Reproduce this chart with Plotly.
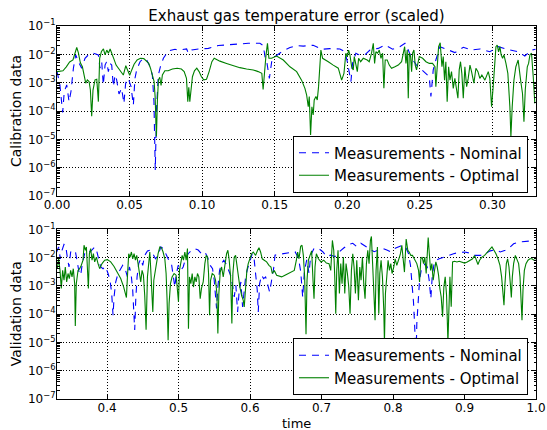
import plotly.graph_objects as go

# ---------------- data (time, log10 of scaled error) ----------------
cal_nominal_t = [0.0, 0.002, 0.0039, 0.005, 0.0067, 0.0083, 0.0096, 0.0113, 0.0129, 0.0147,
                 0.017, 0.0193, 0.0216, 0.025, 0.0285, 0.0296, 0.0308, 0.0319, 0.0331, 0.0342,
                 0.0354, 0.0365, 0.0377, 0.0388, 0.04, 0.0411, 0.0427, 0.0445, 0.0461, 0.0473,
                 0.0491, 0.051, 0.0526, 0.0537, 0.0549, 0.0572, 0.0595, 0.0618, 0.0641, 0.0657,
                 0.0668, 0.0677, 0.0686, 0.0698, 0.0712, 0.0733, 0.0767, 0.0813, 0.0836, 0.0893,
                 0.0905, 0.0928, 0.0974, 0.1043, 0.1111, 0.1215, 0.1318, 0.1398, 0.1421, 0.1433,
                 0.1447, 0.1463, 0.1479, 0.1502, 0.1548, 0.1605, 0.1651, 0.1697, 0.1765, 0.1823,
                 0.188, 0.1949, 0.1984, 0.2, 0.2013, 0.2025, 0.2036, 0.2059, 0.2082, 0.2121,
                 0.2156, 0.2213, 0.2259, 0.2312, 0.2362, 0.2397, 0.242, 0.2443, 0.2477, 0.2512,
                 0.2546, 0.2565, 0.2576, 0.2592, 0.261, 0.2638, 0.2684, 0.2741, 0.2799, 0.2856,
                 0.2914, 0.2982, 0.304, 0.3097, 0.3178, 0.3223, 0.3269, 0.3297]
cal_nominal_exp = [-2.6, -3.08, -4.05, -3.32, -3.08, -3.67, -3.32, -2.49, -2.02, -2.26,
                   -2.49, -2.14, -2.02, -1.96, -2.02, -2.49, -2.26, -3.08, -2.38, -2.26,
                   -2.61, -2.32, -2.38, -3.14, -2.73, -2.9, -3.4, -3.2, -3.73, -3.02,
                   -2.85, -3.14, -3.79, -2.85, -2.55, -2.26, -2.14, -2.2, -2.44, -2.73,
                   -3.67, -6.08, -3.9, -2.73, -2.44, -2.14, -1.88, -1.82, -1.85, -1.81,
                   -1.96, -1.85, -1.81, -1.79, -1.69, -1.65, -1.61, -1.61, -1.69, -2.08,
                   -2.32, -2.85, -2.26, -2.08, -1.91, -1.76, -1.69, -1.71, -1.68, -1.82,
                   -1.8, -1.81, -1.91, -2.26, -2.61, -2.96, -2.32, -1.96, -2.02, -2.02,
                   -1.85, -1.79, -1.67, -1.82, -1.73, -1.61, -1.85, -2.14, -2.38, -2.55,
                   -2.73, -2.79, -3.49, -2.55, -2.2, -1.73, -1.82, -1.94, -1.75, -1.85,
                   -1.81, -1.91, -1.73, -1.82, -1.91, -2.06, -1.85, -1.82]

cal_optimal_t = [0.0, 0.0041, 0.0064, 0.0087, 0.011, 0.0129, 0.0136, 0.0147, 0.0161, 0.0175,
                 0.0186, 0.0198, 0.0209, 0.0221, 0.023, 0.0239, 0.0248, 0.0262, 0.0274, 0.0285,
                 0.0294, 0.0306, 0.032, 0.0331, 0.0343, 0.0354, 0.0366, 0.0379, 0.0393, 0.0407,
                 0.0421, 0.0432, 0.0446, 0.0457, 0.0474, 0.0487, 0.0501, 0.0515, 0.0531, 0.0552,
                 0.0575, 0.0598, 0.0618, 0.0632, 0.0644, 0.0657, 0.0669, 0.0676, 0.0685, 0.0692,
                 0.0699, 0.0708, 0.0717, 0.0726, 0.0743, 0.0766, 0.0795, 0.0828, 0.0857, 0.0876,
                 0.0892, 0.0901, 0.0908, 0.0915, 0.0924, 0.0933, 0.0947, 0.0963, 0.0979, 0.0995,
                 0.1011, 0.103, 0.1048, 0.1067, 0.1083, 0.1122, 0.1168, 0.1214, 0.126, 0.1306,
                 0.1352, 0.1386, 0.1411, 0.142, 0.143, 0.1439, 0.145, 0.146, 0.1478, 0.1513,
                 0.1559, 0.1605, 0.1651, 0.1685, 0.1708, 0.172, 0.1731, 0.1738, 0.1747, 0.1756,
                 0.1765, 0.1772, 0.1784, 0.1793, 0.1802, 0.1811, 0.1818, 0.183, 0.1846, 0.1869,
                 0.1903, 0.1938, 0.1961, 0.1977, 0.199, 0.2, 0.2009, 0.2018, 0.203, 0.2041,
                 0.2048, 0.2059, 0.2069, 0.2078, 0.2092, 0.211, 0.2137, 0.2151, 0.2167, 0.2179,
                 0.2188, 0.2197, 0.2209, 0.222, 0.2232, 0.2243, 0.2252, 0.2261, 0.2275, 0.2289,
                 0.2305, 0.2328, 0.2351, 0.2374, 0.2385, 0.2395, 0.2404, 0.2413, 0.242, 0.2427,
                 0.2436, 0.2443, 0.245, 0.2459, 0.2468, 0.2477, 0.2496, 0.2519, 0.2542, 0.2565,
                 0.2587, 0.2604, 0.261, 0.262, 0.2629, 0.264, 0.2652, 0.2661, 0.267, 0.2679,
                 0.2688, 0.2698, 0.2707, 0.2718, 0.273, 0.2741, 0.2753, 0.2762, 0.2771, 0.278,
                 0.2789, 0.2799, 0.281, 0.2822, 0.2833, 0.2845, 0.2856, 0.2872, 0.2886, 0.29,
                 0.2913, 0.2927, 0.2948, 0.2971, 0.2982, 0.2994, 0.3005, 0.3015, 0.3024, 0.3033,
                 0.3042, 0.3051, 0.306, 0.307, 0.3079, 0.3093, 0.3106, 0.312, 0.3127, 0.3136,
                 0.3148, 0.3161, 0.3177, 0.3194, 0.3207, 0.3217, 0.3226, 0.324, 0.3249, 0.3258,
                 0.3269, 0.3281, 0.3292]
cal_optimal_exp = [-2.61, -2.58, -2.44, -2.27, -2.2, -1.85, -1.76, -1.94, -2.3, -2.44,
                   -2.73, -3.02, -2.9, -2.96, -3.26, -4.18, -3.26, -2.9, -2.88, -3.67,
                   -2.14, -1.9, -1.81, -2.02, -1.85, -1.96, -1.81, -1.96, -2.18, -2.38,
                   -2.49, -2.55, -2.67, -2.73, -2.4, -2.55, -2.74, -2.55, -2.35, -2.2,
                   -2.14, -2.15, -2.24, -2.32, -2.49, -2.73, -2.96, -3.5, -4.9, -3.6,
                   -2.9, -2.81, -3.1, -2.73, -2.58, -2.58, -2.52, -2.49, -2.52, -2.61,
                   -2.85, -3.67, -3.16, -3.67, -3.14, -2.79, -2.58, -2.49, -2.61, -2.79,
                   -2.9, -2.88, -2.61, -2.26, -2.14, -2.24, -2.32, -2.4, -2.47, -2.52,
                   -2.55, -2.61, -2.67, -3.24, -2.44, -2.08, -1.61, -2.14, -2.14, -2.06,
                   -2.2, -2.44, -2.61, -2.91, -3.2, -3.44, -3.85, -3.49, -4.85, -3.85,
                   -4.14, -3.61, -3.49, -3.61, -3.14, -2.44, -1.85, -2.14, -2.2, -2.26,
                   -2.38, -2.49, -2.91, -2.67, -1.96, -2.08, -1.85, -2.02, -2.44, -2.55,
                   -2.08, -2.44, -2.61, -2.14, -2.26, -2.14, -2.2, -2.26, -1.96, -1.61,
                   -2.32, -1.91, -1.96, -1.85, -2.14, -1.96, -3.2, -2.2, -2.2, -2.38,
                   -2.49, -2.44, -2.38, -2.26, -1.96, -1.73, -2.32, -1.85, -3.55, -1.96,
                   -2.08, -2.61, -1.96, -1.85, -2.38, -2.55, -2.08, -2.14, -2.26, -2.32,
                   -2.32, -2.44, -3.14, -2.2, -1.73, -1.59, -2.44, -2.08, -2.91, -2.26,
                   -3.67, -2.44, -2.91, -2.61, -3.2, -2.85, -3.38, -3.55, -2.55, -2.26,
                   -2.67, -3.55, -2.44, -3.14, -2.85, -2.38, -2.61, -3.02, -2.49, -2.61,
                   -2.85, -2.73, -2.91, -2.61, -2.85, -3.85, -3.14, -2.14, -1.73, -1.67,
                   -1.91, -1.73, -2.02, -2.14, -2.02, -2.32, -2.67, -3.85, -4.91, -3.85,
                   -2.91, -2.44, -2.2, -2.91, -3.38, -4.38, -3.26, -2.44, -2.32, -2.02,
                   -1.96, -2.79, -3.73]

val_nominal_t = [0.3295, 0.3323, 0.3346, 0.337, 0.3398, 0.3421, 0.3444, 0.3468, 0.3491, 0.3524,
                 0.3556, 0.3585, 0.3608, 0.3631, 0.3654, 0.3687, 0.3725, 0.3762, 0.3799, 0.3827,
                 0.3855, 0.3883, 0.3911, 0.3944, 0.3977, 0.4014, 0.4042, 0.4065, 0.4084, 0.4098,
                 0.4121, 0.4154, 0.4187, 0.4219, 0.4252, 0.4285, 0.4313, 0.4336, 0.4359, 0.4373,
                 0.4387, 0.4401, 0.442, 0.4443, 0.4471, 0.4499, 0.4527, 0.4565, 0.4602, 0.464,
                 0.4677, 0.4714, 0.4752, 0.4789, 0.4826, 0.4864, 0.4901, 0.4929, 0.4948, 0.4966,
                 0.4995, 0.5032, 0.5065, 0.5097, 0.5135, 0.5181, 0.5228, 0.5275, 0.5321, 0.5368,
                 0.5406, 0.5443, 0.5476, 0.5499, 0.5518, 0.5532, 0.555, 0.5574, 0.5602, 0.5634,
                 0.5662, 0.5695, 0.5728, 0.5756, 0.5779, 0.5802, 0.5826, 0.5849, 0.5872, 0.5896,
                 0.5915, 0.5938, 0.5966, 0.5998, 0.6031, 0.6059, 0.6082, 0.6101, 0.6115, 0.6134,
                 0.6162, 0.619, 0.6218, 0.6246, 0.6274, 0.6302, 0.633, 0.6349, 0.6419, 0.6489,
                 0.6559, 0.6629, 0.6676, 0.6709, 0.6737, 0.676, 0.6793, 0.6825, 0.6849, 0.6895,
                 0.6956, 0.7017, 0.7073, 0.7129, 0.7189, 0.725, 0.7315, 0.7381, 0.7437, 0.7493,
                 0.7549, 0.761, 0.767, 0.7736, 0.7796, 0.7857, 0.7913, 0.7969, 0.803, 0.809,
                 0.8146, 0.8184, 0.8216, 0.8244, 0.8268, 0.8286, 0.83, 0.8315, 0.8322, 0.8333,
                 0.8352, 0.8371, 0.8394, 0.8422, 0.845, 0.8478, 0.8506, 0.8529, 0.8548, 0.8571,
                 0.8599, 0.8646, 0.8707, 0.8777, 0.8847, 0.8917, 0.9001, 0.908, 0.915, 0.922,
                 0.929, 0.936, 0.943, 0.95, 0.957, 0.9627, 0.9687, 0.9757, 0.9851, 0.9944, 1.0]
val_nominal_exp = [-1.8, -1.62, -2.04, -1.74, -1.53, -1.56, -1.98, -2.33, -1.8, -1.74,
                   -1.76, -2.21, -2.51, -2.62, -2.21, -1.86, -1.74, -1.8, -1.68, -1.62,
                   -1.76, -2.09, -2.33, -2.39, -2.31, -2.56, -2.8, -3.27, -4.04, -3.39,
                   -2.86, -2.56, -2.39, -2.27, -2.39, -2.68, -2.33, -2.56, -3.15, -3.74,
                   -4.56, -3.51, -2.68, -2.21, -2.04, -2.27, -1.92, -1.76, -1.74, -1.86,
                   -2.04, -1.92, -1.62, -1.68, -1.86, -2.09, -2.21, -2.62, -3.04, -2.62,
                   -2.27, -2.45, -2.33, -2.04, -1.86, -1.74, -1.68, -1.73, -1.86, -1.8,
                   -1.98, -2.27, -2.39, -2.8, -3.39, -3.8, -3.04, -2.45, -2.21, -2.09,
                   -2.21, -2.39, -2.62, -2.98, -3.39, -2.98, -3.92, -3.15, -2.86, -3.74,
                   -3.27, -2.68, -2.39, -2.09, -1.86, -2.09, -2.56, -3.15, -3.92, -2.92,
                   -2.62, -2.74, -2.68, -2.98, -3.21, -2.8, -2.39, -1.91, -1.88, -1.85,
                   -1.81, -1.79, -2.0, -2.49, -3.41, -2.49, -2.08, -2.55, -1.91, -1.67,
                   -1.67, -1.79, -1.96, -1.91, -1.96, -1.79, -1.65, -1.53, -1.49, -1.61,
                   -1.49, -1.58, -1.67, -1.79, -1.73, -1.67, -1.73, -1.79, -1.67, -1.61,
                   -1.55, -1.67, -1.85, -2.26, -2.85, -3.55, -4.26, -5.02, -5.6, -4.33,
                   -3.39, -2.8, -2.45, -2.33, -2.21, -2.33, -2.8, -3.45, -2.68, -2.27,
                   -2.09, -2.04, -1.98, -1.92, -1.86, -1.82, -1.8, -1.84, -1.92, -1.92,
                   -1.86, -1.76, -1.72, -1.8, -1.74, -1.65, -1.51, -1.45, -1.42, -1.41, -1.39]

val_optimal_t = [0.3304, 0.3323, 0.3342, 0.336, 0.3379, 0.3398, 0.3416, 0.3435, 0.3454, 0.3472,
                 0.3491, 0.351, 0.3528, 0.3547, 0.3556, 0.357, 0.3594, 0.3617, 0.364, 0.3664,
                 0.3678, 0.3697, 0.3711, 0.3725, 0.3739, 0.3753, 0.3771, 0.379, 0.3809, 0.3827,
                 0.3851, 0.3874, 0.3897, 0.393, 0.3967, 0.4005, 0.4051, 0.4098, 0.4145, 0.4191,
                 0.4233, 0.4257, 0.4271, 0.4285, 0.4303, 0.4322, 0.4341, 0.4359, 0.4378, 0.4397,
                 0.4415, 0.4434, 0.4453, 0.4471, 0.449, 0.4509, 0.4527, 0.4546, 0.4565, 0.4584,
                 0.4598, 0.4612, 0.4626, 0.464, 0.4654, 0.4672, 0.4691, 0.4714, 0.4738, 0.4761,
                 0.4784, 0.4808, 0.4826, 0.484, 0.4854, 0.4868, 0.4887, 0.491, 0.4938, 0.4966,
                 0.4985, 0.4999, 0.5013, 0.5032, 0.5051, 0.5069, 0.5088, 0.5107, 0.5125, 0.5139,
                 0.5153, 0.5172, 0.5191, 0.5209, 0.5228, 0.5247, 0.5265, 0.5284, 0.5303, 0.5321,
                 0.5345, 0.5368, 0.5387, 0.5406, 0.542, 0.5434, 0.5448, 0.5471, 0.5499, 0.5518,
                 0.5536, 0.555, 0.5564, 0.5583, 0.5602, 0.5625, 0.5648, 0.5672, 0.569, 0.5709,
                 0.5728, 0.5746, 0.576, 0.5779, 0.5798, 0.5816, 0.5835, 0.5858, 0.5882, 0.5905,
                 0.5919, 0.5938, 0.5956, 0.5975, 0.5998, 0.6022, 0.6045, 0.6078, 0.6106, 0.6125,
                 0.6148, 0.6171, 0.6199, 0.6232, 0.6265, 0.6293, 0.6311, 0.6339, 0.6372, 0.6405,
                 0.6442, 0.6489, 0.6535, 0.6582, 0.6619, 0.6648, 0.6666, 0.6685, 0.6708, 0.6727,
                 0.6746, 0.6764, 0.6783, 0.6797, 0.6816, 0.6839, 0.6862, 0.6881, 0.6895, 0.6909,
                 0.6928, 0.6956, 0.6993, 0.7031, 0.7068, 0.7105, 0.7129, 0.7152, 0.7171, 0.7185,
                 0.7199, 0.7213, 0.7231, 0.725, 0.7269, 0.7287, 0.7306, 0.7325, 0.7343, 0.7362,
                 0.7381, 0.7399, 0.7418, 0.7437, 0.7455, 0.7474, 0.7493, 0.7516, 0.7535, 0.7553,
                 0.7572, 0.7591, 0.7609, 0.7628, 0.7647, 0.7665, 0.7684, 0.7698, 0.7712, 0.7731,
                 0.7749, 0.7763, 0.7782, 0.7801, 0.7815, 0.7833, 0.7852, 0.7871, 0.788, 0.7894,
                 0.7913, 0.7931, 0.795, 0.7969, 0.7987, 0.8011, 0.803, 0.8053, 0.8076, 0.8104,
                 0.8123, 0.8142, 0.816, 0.8184, 0.8207, 0.8226, 0.8249, 0.8272, 0.831, 0.8333,
                 0.8357, 0.8371, 0.8389, 0.8408, 0.8427, 0.8445, 0.8464, 0.8478, 0.8492, 0.8506,
                 0.8525, 0.8543, 0.8562, 0.8581, 0.8599, 0.8618, 0.8637, 0.8655, 0.8674, 0.8693,
                 0.8711, 0.873, 0.8749, 0.8768, 0.8782, 0.8796, 0.8814, 0.8833, 0.8861, 0.8894,
                 0.8926, 0.8964, 0.9001, 0.9038, 0.9076, 0.9113, 0.9141, 0.9164, 0.9188, 0.9211,
                 0.9244, 0.9281, 0.9318, 0.9356, 0.9384, 0.9412, 0.944, 0.9468, 0.9496, 0.9519,
                 0.9538, 0.9552, 0.9566, 0.9585, 0.9603, 0.9622, 0.9641, 0.9655, 0.9669, 0.9687,
                 0.9711, 0.9734, 0.9757, 0.9776, 0.979, 0.9804, 0.9818, 0.9837, 0.986, 0.9888,
                 0.9916, 0.9944, 0.9972, 1.0]
val_optimal_exp = [-2.39, -2.04, -2.45, -3.09, -2.45, -2.8, -2.33, -2.86, -2.56, -2.74,
                   -2.45, -2.68, -2.39, -2.92, -4.42, -2.92, -2.45, -2.39, -2.27, -2.09,
                   -1.56, -1.74, -1.62, -2.21, -3.09, -1.86, -1.68, -2.09, -1.86, -2.15,
                   -1.98, -2.21, -2.39, -2.21, -2.09, -2.07, -2.15, -2.31, -2.51, -2.74,
                   -3.04, -3.27, -3.41, -2.68, -1.86, -1.98, -1.8, -2.04, -1.86, -2.09,
                   -1.92, -2.21, -2.51, -2.86, -2.45, -2.62, -3.33, -4.55, -2.68, -2.09,
                   -1.8, -2.45, -3.09, -3.92, -2.8, -2.45, -2.21, -1.86, -1.62, -1.65,
                   -1.8, -2.04, -2.56, -3.51, -4.92, -3.62, -2.92, -2.68, -2.56, -2.62,
                   -3.1, -3.56, -2.45, -2.09, -1.92, -2.09, -1.8, -2.09, -1.68, -4.51,
                   -2.68, -2.92, -2.56, -3.04, -2.68, -2.86, -2.56, -2.68, -3.45, -3.09,
                   -2.86, -2.21, -1.92, -1.98, -2.56, -4.04, -2.8, -2.56, -2.62, -2.8,
                   -3.27, -4.68, -3.27, -2.51, -2.33, -2.68, -2.21, -1.86, -1.74, -2.09,
                   -2.68, -4.33, -2.56, -1.98, -1.92, -2.27, -2.68, -3.04, -3.33, -3.51,
                   -3.74, -3.04, -2.45, -2.21, -2.04, -1.86, -1.8, -1.92, -1.74, -1.65,
                   -1.8, -2.04, -2.09, -2.15, -2.27, -2.33, -2.56, -2.45, -2.62, -2.66,
                   -2.68, -2.62, -2.56, -2.51, -2.45, -2.09, -1.8, -2.04, -1.6, -1.56,
                   -1.92, -2.68, -4.71, -2.8, -2.09, -1.92, -1.76, -2.8, -3.45, -2.33,
                   -1.86, -2.04, -2.15, -2.09, -2.19, -2.21, -2.45, -1.39, -1.74, -2.68,
                   -3.98, -2.45, -1.74, -3.27, -2.21, -2.92, -1.98, -3.27, -2.21, -2.56,
                   -3.04, -3.98, -2.45, -1.86, -2.33, -3.27, -2.09, -3.51, -2.33, -2.8,
                   -1.98, -2.92, -3.45, -2.21, -1.74, -2.21, -1.39, -1.25, -1.98, -3.04,
                   -4.21, -2.45, -1.62, -3.98, -2.56, -2.09, -2.68, -3.86, -4.98, -3.27,
                   -2.45, -2.09, -2.45, -2.21, -2.56, -2.33, -2.04, -2.27, -2.09, -1.86,
                   -1.56, -2.09, -2.51, -1.34, -1.74, -1.8, -1.92, -1.92, -2.09, -2.21,
                   -2.45, -2.86, -2.04, -1.98, -2.21, -1.98, -2.56, -1.62, -1.29, -1.8,
                   -2.45, -2.21, -2.8, -2.45, -2.15, -2.33, -2.62, -3.09, -3.39, -4.09,
                   -3.04, -2.68, -3.33, -4.98, -3.27, -2.68, -3.74, -2.15, -2.13, -2.15,
                   -2.13, -2.15, -2.19, -2.15, -2.09, -2.04, -1.92, -2.09, -2.24, -2.09,
                   -1.98, -1.92, -1.8, -1.68, -1.62, -1.74, -1.86, -2.04, -2.27, -2.68,
                   -3.15, -3.68, -2.92, -2.21, -2.04, -2.33, -2.92, -3.41, -2.68, -2.21,
                   -1.92, -2.04, -2.21, -2.68, -3.27, -4.21, -3.15, -2.45, -2.21, -2.09,
                   -2.04, -2.04, -2.09, -2.09]

series_names = ["Measurements - Nominal", "Measurements - Optimal"]
title_text = "Exhaust gas temperature error (scaled)"
y_tick_exponents = [-7, -6, -5, -4, -3, -2, -1]
top_x_ticks = [0.0, 0.05, 0.10, 0.15, 0.20, 0.25, 0.30]
bottom_x_ticks = [0.4, 0.5, 0.6, 0.7, 0.8, 0.9, 1.0]

assert len(cal_nominal_t) == len(cal_nominal_exp), (len(cal_nominal_t), len(cal_nominal_exp))
assert len(cal_optimal_t) == len(cal_optimal_exp), (len(cal_optimal_t), len(cal_optimal_exp))
assert len(val_nominal_t) == len(val_nominal_exp), (len(val_nominal_t), len(val_nominal_exp))
assert len(val_optimal_t) == len(val_optimal_exp), (len(val_optimal_t), len(val_optimal_exp))


def to_values(exps):
    return [10.0 ** e for e in exps]


# ---------------- figure ----------------
W, H = 547, 430
ML, MR, MT, MB = 57, 11, 26, 31
plot_h = H - MT - MB
pw = W - ML - MR
top_dom = [(H - MB - 196) / plot_h, 1.0]
bot_dom = [0.0, (H - MB - 229.4) / plot_h]

FONT = "DejaVu Sans"
BLUE = "#0000ff"
GREEN = "#008000"

fig = go.Figure()
nominal_line = dict(color=BLUE, width=1.1, dash="7px,6px")
optimal_line = dict(color=GREEN, width=1.1)

fig.add_trace(go.Scatter(x=cal_nominal_t, y=to_values(cal_nominal_exp), mode="lines",
                         line=nominal_line, name=series_names[0], xaxis="x", yaxis="y",
                         legend="legend"))
fig.add_trace(go.Scatter(x=cal_optimal_t, y=to_values(cal_optimal_exp), mode="lines",
                         line=optimal_line, name=series_names[1], xaxis="x", yaxis="y",
                         legend="legend"))
fig.add_trace(go.Scatter(x=val_nominal_t, y=to_values(val_nominal_exp), mode="lines",
                         line=nominal_line, name=series_names[0], xaxis="x2", yaxis="y2",
                         legend="legend2"))
fig.add_trace(go.Scatter(x=val_optimal_t, y=to_values(val_optimal_exp), mode="lines",
                         line=optimal_line, name=series_names[1], xaxis="x2", yaxis="y2",
                         legend="legend2"))

common = dict(showline=True, linecolor="black", linewidth=1, mirror="allticks",
              ticks="inside", ticklen=5, tickwidth=1, tickcolor="black",
              showgrid=True, gridcolor="black", gridwidth=1, griddash="1px,2px",
              zeroline=False, automargin=False,
              tickfont=dict(family=FONT, size=12, color="black"))

major_vals = [10.0 ** e for e in y_tick_exponents]
major_text = ["10<sup>\u2212%d</sup>" % (-e) for e in y_tick_exponents]
minor_vals = [k * 10.0 ** e for e in y_tick_exponents[:-1] for k in range(2, 10)]
yaxis_style = dict(type="log", range=[-7, -1], tickmode="array", tickvals=major_vals,
                   ticktext=major_text, ticklabelstandoff=-2,
                   minor=dict(tickmode="array", tickvals=minor_vals, ticks="inside",
                              ticklen=2.5, tickcolor="black", tickwidth=1, showgrid=False),
                   **common)

legend_style = dict(xanchor="right", yanchor="middle", bgcolor="white",
                    bordercolor="black", borderwidth=1,
                    font=dict(family=FONT, size=15, color="black"), tracegroupgap=0)

fig.update_layout(
    width=W, height=H, autosize=False,
    margin=dict(l=ML, r=MR, t=MT, b=MB, pad=0, autoexpand=False),
    paper_bgcolor="white", plot_bgcolor="white",
    font=dict(family=FONT, size=12, color="black"),
    title=dict(text=title_text, x=0.5, xref="paper", xanchor="center",
               y=1 - 15.5 / H, yref="container", yanchor="middle",
               font=dict(family=FONT, size=15, color="black")),
    xaxis=dict(domain=[0, 1], anchor="y", range=[0, 0.33], tickmode="array",
               tickvals=top_x_ticks, ticktext=["%.2f" % v for v in top_x_ticks],
               ticklabelstandoff=-2, **common),
    yaxis=dict(domain=top_dom, anchor="x", **yaxis_style),
    xaxis2=dict(domain=[0, 1], anchor="y2", range=[0.33, 1.0], tickmode="array",
                tickvals=bottom_x_ticks, ticktext=["%.1f" % v for v in bottom_x_ticks],
                ticklabelstandoff=-2, **common),
    yaxis2=dict(domain=bot_dom, anchor="x2", **yaxis_style),
    legend=dict(x=(528 - ML) / pw, y=(H - MB - 164) / plot_h, **legend_style),
    legend2=dict(x=(528 - ML) / pw, y=(H - MB - 366.5) / plot_h, **legend_style),
    showlegend=True,
)

fig.add_annotation(text="Calibration data", textangle=-90, xref="paper", yref="paper",
                   x=(16 - ML) / pw, y=(top_dom[0] + top_dom[1]) / 2, showarrow=False,
                   xanchor="center", yanchor="middle", font=dict(family=FONT, size=14))
fig.add_annotation(text="Validation data", textangle=-90, xref="paper", yref="paper",
                   x=(16 - ML) / pw, y=(bot_dom[0] + bot_dom[1]) / 2, showarrow=False,
                   xanchor="center", yanchor="middle", font=dict(family=FONT, size=14))
fig.add_annotation(text="time", xref="paper", yref="paper", x=0.5,
                   y=(H - MB - 423) / plot_h, showarrow=False,
                   xanchor="center", yanchor="middle", font=dict(family=FONT, size=13))

fig.write_html("out.html", config={"displayModeBar": False},
               post_script="document.body.style.margin='0px';document.body.style.overflow='hidden';")
